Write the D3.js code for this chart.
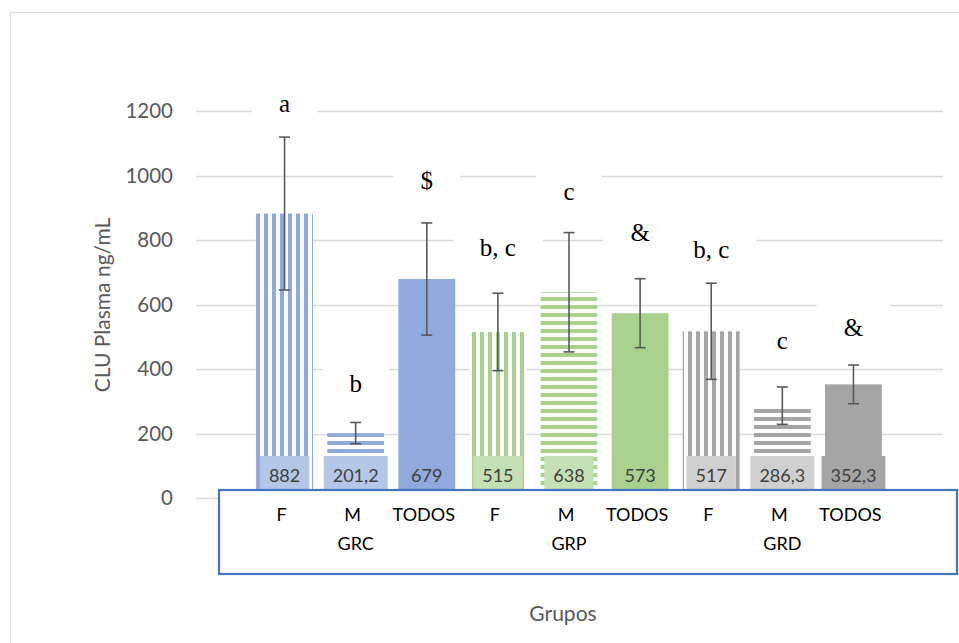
<!DOCTYPE html>
<html>
<head>
<meta charset="utf-8">
<script src="https://cdn.jsdelivr.net/npm/d3@7"></script>
<style>
  html, body { margin: 0; padding: 0; background: #fff; }
  svg { display: block; }
</style>
</head>
<body>
<svg id="chart" width="959" height="643"></svg>
<script>
// ---------- data ----------
const categories = ["F", "M", "TODOS", "F", "M", "TODOS", "F", "M", "TODOS"];
const groupNames = ["GRC", "GRP", "GRD"];
const means = [882, 201.2, 679, 515, 638, 573, 517, 286.3, 352.3];
const errors = [237, 33, 174, 120, 185, 107, 149, 58, 60];
const valueLabels = ["882", "201,2", "679", "515", "638", "573", "517", "286,3", "352,3"];
const sigLabels = ["a", "b", "$", "b, c", "c", "&", "b, c", "c", "&"];
const sigLabelY = [1197, 329, 958, 750, 924, 797, 744, 462, 502];
const yTicks = [0, 200, 400, 600, 800, 1000, 1200];

// ---------- styles ----------
const groupColors = ["#8FAADC", "#A9D18E", "#A5A5A5"];
const groupLight = ["#B4C7E7", "#C5E0B4", "#D0D0D0"];
const sans = "Lato, 'Open Sans', sans-serif";

const svg = d3.select("#chart");

const y = d3.scaleLinear().domain([0, 1200]).range([498, 111]);
const x = d3.scaleBand().domain(d3.range(categories.length)).range([249, 889])
  .paddingInner(0.2).paddingOuter(0.1);

// patterns
const defs = svg.append("defs");
groupColors.forEach((c, g) => {
  const pv = defs.append("pattern").attr("id", "pv" + g).attr("patternUnits", "userSpaceOnUse")
    .attr("width", 8).attr("height", 8);
  pv.append("rect").attr("width", 8).attr("height", 8).attr("fill", "#fff");
  pv.append("rect").attr("x", 0).attr("width", 4).attr("height", 8).attr("fill", c);
  const ph = defs.append("pattern").attr("id", "ph" + g).attr("patternUnits", "userSpaceOnUse")
    .attr("width", 8).attr("height", 8).attr("y", 1);
  ph.append("rect").attr("width", 8).attr("height", 8).attr("fill", "#fff");
  ph.append("rect").attr("y", 0).attr("width", 8).attr("height", 4).attr("fill", c);
});

// outer chart border
svg.append("rect").attr("x", 10.5).attr("y", 12.5).attr("width", 1000).attr("height", 1000)
  .attr("fill", "none").attr("stroke", "#D9D9D9").attr("stroke-width", 1.2);

// gridlines
svg.append("g").selectAll("line").data(yTicks).join("line")
  .attr("x1", 196).attr("x2", 943)
  .attr("y1", d => Math.round(y(d)) + 0.5).attr("y2", d => Math.round(y(d)) + 0.5)
  .attr("stroke", "#D9D9D9").attr("stroke-width", 1.3);

// y tick labels
svg.append("g").selectAll("text").data(yTicks).join("text")
  .attr("x", 173).attr("y", d => y(d)).attr("dy", "0.36em")
  .attr("text-anchor", "end").attr("fill", "#595959")
  .style("font-family", sans).style("font-size", "20.5px")
  .text(d => d);

// y axis title
svg.append("text")
  .attr("transform", "translate(110,305) rotate(-90)")
  .attr("text-anchor", "middle").attr("fill", "#595959")
  .style("font-family", sans).style("font-size", "21px")
  .text("CLU Plasma ng/mL");

// significance labels (white boxes interrupt gridlines)
const sigG = svg.append("g");
sigLabels.forEach((s, i) => {
  const cx = x(i) + x.bandwidth() / 2;
  const t = sigG.append("text")
    .attr("x", cx).attr("y", y(sigLabelY[i]))
    .attr("text-anchor", "middle").attr("fill", "#000")
    .style("font-family", "'Liberation Serif', 'Times New Roman', serif")
    .style("font-size", "25px")
    .text(s);
  const bb = t.node().getBBox();
  const w = bb.width + 54, h = 50;
  sigG.insert("rect", "text")
    .attr("x", cx - w / 2).attr("y", bb.y + bb.height / 2 - h / 2)
    .attr("width", w).attr("height", h).attr("fill", "#fff");
});

// bars
const fillFor = i => {
  const g = Math.floor(i / 3), k = i % 3;
  if (k === 0) return "url(#pv" + g + ")";
  if (k === 1) return "url(#ph" + g + ")";
  return groupColors[g];
};
svg.append("g").selectAll("rect").data(means).join("rect")
  .attr("x", (d, i) => x(i)).attr("width", x.bandwidth())
  .attr("y", d => y(d)).attr("height", d => y(0) - y(d))
  .attr("fill", (d, i) => fillFor(i));

// error bars
const eb = svg.append("g").attr("stroke", "#595959").attr("stroke-width", 1.6);
means.forEach((m, i) => {
  const cx = x(i) + x.bandwidth() / 2;
  const top = y(m + errors[i]), bot = y(m - errors[i]);
  eb.append("line").attr("x1", cx).attr("x2", cx).attr("y1", top).attr("y2", bot);
  eb.append("line").attr("x1", cx - 5.5).attr("x2", cx + 5.5).attr("y1", top).attr("y2", top);
  eb.append("line").attr("x1", cx - 5.5).attr("x2", cx + 5.5).attr("y1", bot).attr("y2", bot);
});

// value labels with boxes
const vl = svg.append("g");
valueLabels.forEach((s, i) => {
  const cx = x(i) + x.bandwidth() / 2;
  const g = Math.floor(i / 3), k = i % 3;
  const t = vl.append("text")
    .attr("x", cx).attr("y", 482)
    .attr("text-anchor", "middle").attr("fill", "#404040")
    .style("font-family", sans).style("font-size", "18px")
    .text(s);
  const bb = t.node().getBBox();
  const w = bb.width + 18;
  vl.insert("rect", "text")
    .attr("x", cx - w / 2).attr("y", 456).attr("width", w).attr("height", 36)
    .attr("fill", k === 2 ? groupColors[g] : groupLight[g]);
});

// category box overlay
svg.append("rect").attr("x", 219).attr("y", 490).attr("width", 738).attr("height", 84)
  .attr("fill", "#fff").attr("stroke", "#4472C4").attr("stroke-width", 2.2);

svg.append("g").selectAll("text").data(categories).join("text")
  .attr("x", (d, i) => x(i) + x.bandwidth() / 2 - 3).attr("y", 521)
  .attr("text-anchor", "middle").attr("fill", "#000")
  .style("font-family", sans).style("font-size", "18px")
  .text(d => d);

svg.append("g").selectAll("text").data(groupNames).join("text")
  .attr("x", (d, i) => x(i * 3 + 1) + x.bandwidth() / 2).attr("y", 550)
  .attr("text-anchor", "middle").attr("fill", "#000")
  .style("font-family", sans).style("font-size", "18px")
  .text(d => d);

// x axis title
svg.append("text").attr("x", 563).attr("y", 621)
  .attr("text-anchor", "middle").attr("fill", "#595959")
  .style("font-family", sans).style("font-size", "21px")
  .text("Grupos");
</script>
</body>
</html>
